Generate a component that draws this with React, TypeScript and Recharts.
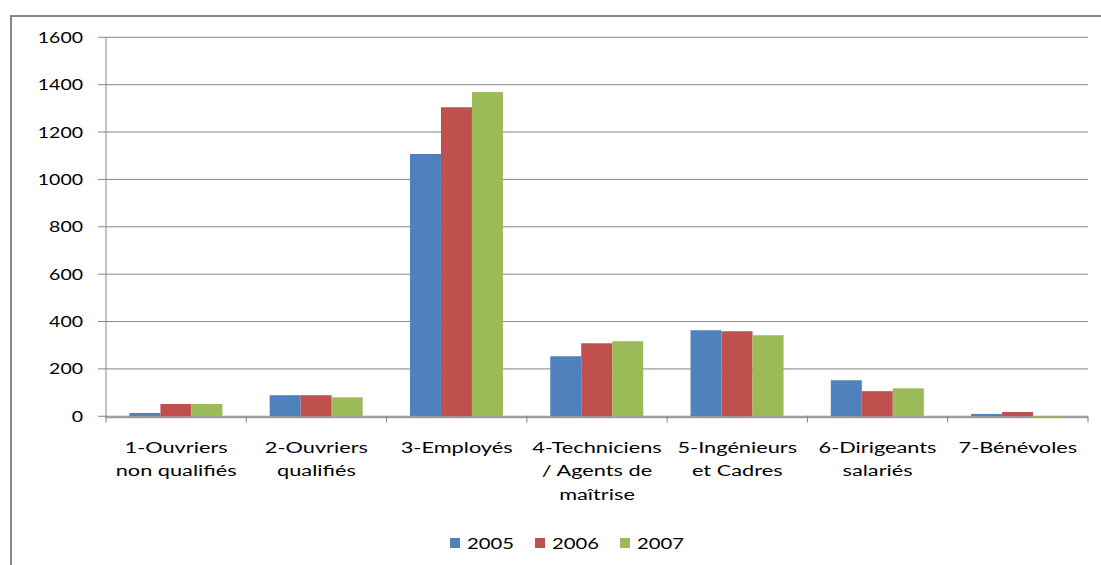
import { BarChart, Bar, XAxis, YAxis, CartesianGrid } from "recharts";

// Categories (line breaks as in the original labels)
const categories = [
  "1-Ouvriers\nnon qualifiés",
  "2-Ouvriers\nqualifiés",
  "3-Employés",
  "4-Techniciens\n/ Agents de\nmaîtrise",
  "5-Ingénieurs\net Cadres",
  "6-Dirigeants\nsalariés",
  "7-Bénévoles",
];

const years = ["2005", "2006", "2007"];
const values2005 = [14, 89, 1107, 253, 363, 152, 10];
const values2006 = [52, 89, 1305, 308, 359, 106, 18];
const values2007 = [52, 80, 1369, 317, 342, 118, -6];
const yTicks = [0, 200, 400, 600, 800, 1000, 1200, 1400, 1600];

const colors = ["#4F81BD", "#C0504D", "#9BBB59"];
const AXIS = "#868686";
const FONT = "Lato, 'Open Sans', sans-serif";
// the source text is drawn wide
const SX_NUM = 1.3;
const SX_TEXT = 1.45;

const CHART_W = 1101;
const CHART_H = 565;
const MARGIN = { top: 37.3, right: 13, left: 0, bottom: 0 };
const Y_AXIS_W = 106;
const BAND = (CHART_W - MARGIN.left - MARGIN.right - Y_AXIS_W) / categories.length;

const seriesValues = [values2005, values2006, values2007];

const data = categories.map((name, i) => {
  const row: Record<string, string | number> = { name };
  years.forEach((y, k) => {
    row[y] = seriesValues[k][i];
  });
  return row;
});

// Category label plus tick marks on the category boundaries
const CategoryTick = (props: any) => {
  const { x, y, payload, index } = props;
  const lines = String(payload.value).split("\n");
  const half = BAND / 2;
  return (
    <g>
      <line x1={x - half} x2={x - half} y1={y - 2} y2={y + 5} stroke={AXIS} />
      {index === categories.length - 1 && (
        <line x1={x + half} x2={x + half} y1={y - 2} y2={y + 5} stroke={AXIS} />
      )}
      {lines.map((line, i) => (
        <text
          key={i}
          transform={`translate(${x},${y + 35.3 + i * 23.3}) scale(${SX_TEXT},1)`}
          textAnchor="middle"
          fontFamily={FONT}
          fontSize={15}
          fill="#000"
        >
          {line}
        </text>
      ))}
    </g>
  );
};

const ValueTick = (props: any) => {
  const { x, y, payload } = props;
  return (
    <text
      transform={`translate(${x},${y + 5.5}) scale(${SX_NUM},1)`}
      textAnchor="end"
      fontFamily={FONT}
      fontSize={15}
      fill="#000"
    >
      {payload.value}
    </text>
  );
};

export default function App() {
  return (
    <div
      style={{
        position: "absolute",
        left: 0,
        top: 0,
        width: CHART_W,
        height: CHART_H,
        background: "#fff",
        overflow: "hidden",
      }}
    >
      {/* chart area frame, cut off on the right and bottom */}
      <div
        style={{
          position: "absolute",
          left: 10,
          top: 15,
          right: -5,
          bottom: -5,
          borderTop: `2px solid ${AXIS}`,
          borderLeft: `2px solid ${AXIS}`,
        }}
      />
      <div style={{ position: "absolute", left: 0, top: 0 }}>
        <BarChart
          width={CHART_W}
          height={CHART_H}
          data={data}
          margin={MARGIN}
          barCategoryGap="16.67%"
          barGap={0}
        >
          <CartesianGrid vertical={false} stroke={AXIS} strokeDasharray="" />
          <XAxis
            dataKey="name"
            interval={0}
            height={147.3}
            axisLine={false}
            tickLine={false}
            tickSize={0}
            tickMargin={0}
            tick={<CategoryTick />}
          />
          <YAxis
            width={Y_AXIS_W}
            domain={[(min: number) => Math.min(0, min), 1600]}
            ticks={yTicks}
            interval={0}
            axisLine={{ stroke: AXIS }}
            tickLine={{ stroke: AXIS }}
            tickSize={8}
            tickMargin={15}
            tick={<ValueTick />}
          />
          {years.map((y, k) => (
            <Bar key={y} dataKey={y} fill={colors[k]} isAnimationActive={false} />
          ))}
        </BarChart>
      </div>
      {/* legend */}
      <div
        style={{
          position: "absolute",
          left: 450,
          top: 533,
          display: "flex",
          alignItems: "center",
          gap: 33,
          fontFamily: FONT,
          fontSize: 15,
          color: "#000",
        }}
      >
        {years.map((y, k) => (
          <div key={y} style={{ display: "flex", alignItems: "center" }}>
            <span
              style={{
                display: "inline-block",
                width: 10,
                height: 10,
                background: colors[k],
                marginRight: 7,
              }}
            />
            <span
              style={{
                display: "inline-block",
                transform: `scaleX(${SX_NUM + 0.05})`,
                transformOrigin: "left center",
                lineHeight: "20px",
              }}
            >
              {y}
            </span>
          </div>
        ))}
      </div>
    </div>
  );
}
